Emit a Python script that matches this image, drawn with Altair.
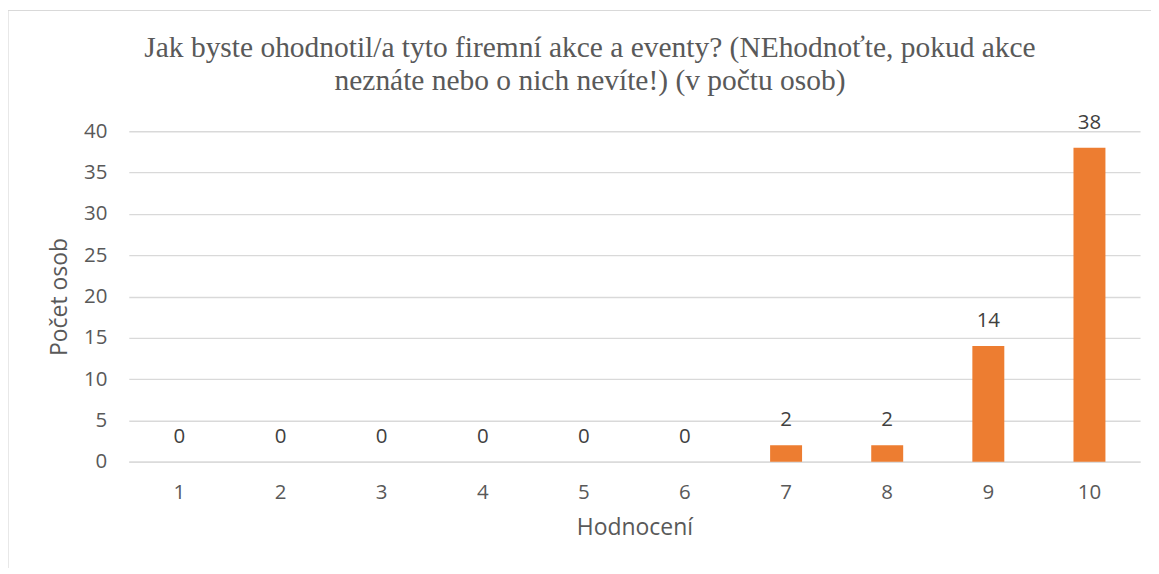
import altair as alt
import pandas as pd

categories = ["1", "2", "3", "4", "5", "6", "7", "8", "9", "10"]
counts = [0, 0, 0, 0, 0, 0, 2, 2, 14, 38]
y_ticks = [0, 5, 10, 15, 20, 25, 30, 35, 40]
title_lines = [
    "Jak byste ohodnotil/a tyto firemní akce a eventy? (NEhodnoťte, pokud akce",
    "neznáte nebo o nich nevíte!) (v počtu osob)",
]

df = pd.DataFrame({"Hodnocení": categories, "Počet osob": counts})

W, H = 1013, 331
PAD = {"left": 121, "top": 123, "right": 11, "bottom": 106}

x_enc = alt.X(
    "Hodnocení:N",
    sort=categories,
    scale=alt.Scale(paddingInner=0.684, paddingOuter=0.342),
    axis=alt.Axis(
        title="Hodnocení",
        labelAngle=0,
        labelFont="Open Sans",
        labelFontSize=20.5,
        labelColor="#595959",
        labelPadding=21,
        ticks=False,
        domainColor="#d9d9d9",
        domainWidth=1.3,
        titleFont="Open Sans",
        titleFontSize=23,
        titleFontWeight="normal",
        titleColor="#595959",
        titlePadding=13,
    ),
)
y_enc = alt.Y(
    "Počet osob:Q",
    scale=alt.Scale(domain=[0, 40], nice=False),
    axis=alt.Axis(
        title="Počet osob",
        values=y_ticks,
        labelFont="Open Sans",
        labelFontSize=20.5,
        labelColor="#595959",
        labelPadding=22,
        ticks=False,
        domain=False,
        gridColor="#d9d9d9",
        gridWidth=1.3,
        titleFont="Open Sans",
        titleFontSize=23,
        titleFontWeight="normal",
        titleColor="#595959",
        titlePadding=12,
    ),
)

base = alt.Chart(df).encode(x=x_enc, y=y_enc)
bars = base.mark_bar(color="#ED7D31")
labels = base.mark_text(
    baseline="bottom", dy=-15, font="Open Sans", fontSize=20.5, color="#404040"
).encode(text="Počet osob:Q")

frame = alt.Chart(pd.DataFrame({"a": [0]})).mark_rect(
    fill=None, stroke="#d9d9d9", strokeWidth=1.2
).encode(
    x=alt.value(-121), x2=alt.value(1100), y=alt.value(-121), y2=alt.value(600)
)

title = alt.Chart(pd.DataFrame({"t": [title_lines]})).mark_text(
    font="Liberation Serif",
    fontSize=29.5,
    color="#595959",
    align="center",
    baseline="alphabetic",
    lineHeight=33,
).encode(text="t", x=alt.value(462), y=alt.value(-74))

chart = (
    alt.layer(frame, bars, labels, title)
    .properties(
        width=W,
        height=H,
        autosize=alt.AutoSizeParams(type="none"),
        padding=PAD,
    )
    .configure_view(stroke=None)
)

chart.save("out.html", embed_options={"renderer": "svg", "actions": False})
